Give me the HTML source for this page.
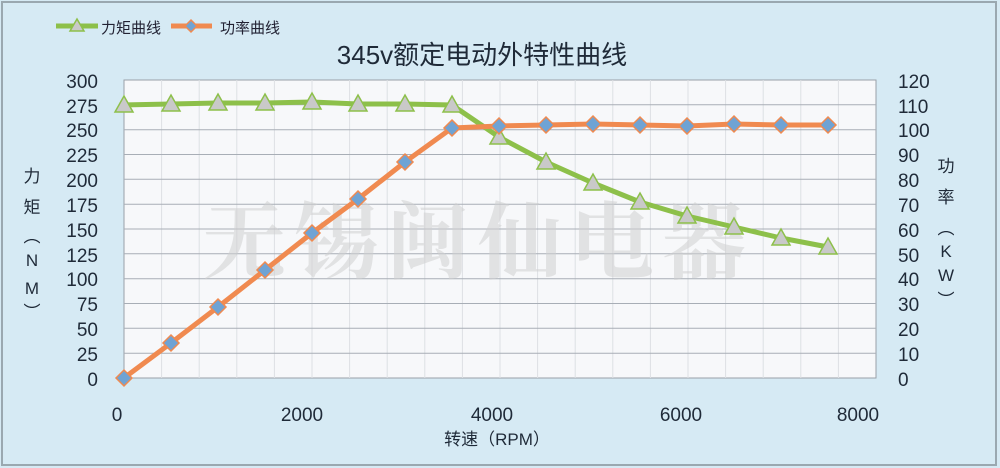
<!DOCTYPE html>
<html><head><meta charset="utf-8"><style>
body{margin:0;background:#d6eaf4;}
svg{display:block;font-family:"Liberation Sans","Noto Sans CJK SC",sans-serif;}
</style></head><body>
<svg width="1000" height="468" viewBox="0 0 1000 468" xmlns="http://www.w3.org/2000/svg">
<rect x="0" y="0" width="1000" height="468" fill="#d6eaf4"/>
<rect x="2" y="2" width="994" height="463" fill="none" stroke="#9aa8b0" stroke-width="2"/>
<!-- legend -->
<line x1="56" y1="26" x2="98" y2="26" stroke="#8dc04a" stroke-width="5"/>
<polygon points="77,19 84,31 70,31" fill="#c9c9c9" stroke="#8dc04a" stroke-width="1.5"/>
<text x="101" y="33" font-size="15" fill="#223">力矩曲线</text>
<line x1="171" y1="26" x2="212" y2="26" stroke="#f08a50" stroke-width="5"/>
<polygon points="191,20 197,26 191,32 185,26" fill="#6fa3d4" stroke="#f08a50" stroke-width="1.5"/>
<text x="220" y="33" font-size="15" fill="#223">功率曲线</text>
<!-- title -->
<text x="482" y="64" font-size="26" text-anchor="middle" fill="#1f2a38">345v额定电动外特性曲线</text>
<!-- plot area -->
<rect x="124" y="80" width="752" height="298" fill="#f7f8fa" stroke="#9aa0a8" stroke-width="1"/>
<g stroke="#dde0e4" stroke-width="1">
<line x1="161.6" y1="80" x2="161.6" y2="378"/><line x1="199.2" y1="80" x2="199.2" y2="378"/><line x1="236.8" y1="80" x2="236.8" y2="378"/><line x1="274.4" y1="80" x2="274.4" y2="378"/><line x1="312" y1="80" x2="312" y2="378"/><line x1="349.6" y1="80" x2="349.6" y2="378"/><line x1="387.2" y1="80" x2="387.2" y2="378"/><line x1="424.8" y1="80" x2="424.8" y2="378"/><line x1="462.4" y1="80" x2="462.4" y2="378"/><line x1="500" y1="80" x2="500" y2="378"/><line x1="537.6" y1="80" x2="537.6" y2="378"/><line x1="575.2" y1="80" x2="575.2" y2="378"/><line x1="612.8" y1="80" x2="612.8" y2="378"/><line x1="650.4" y1="80" x2="650.4" y2="378"/><line x1="688" y1="80" x2="688" y2="378"/><line x1="725.6" y1="80" x2="725.6" y2="378"/><line x1="763.2" y1="80" x2="763.2" y2="378"/><line x1="800.8" y1="80" x2="800.8" y2="378"/><line x1="838.4" y1="80" x2="838.4" y2="378"/>
</g>
<g stroke="#a8aeb6" stroke-width="1">
<line x1="124" y1="104.8" x2="876" y2="104.8"/><line x1="124" y1="129.7" x2="876" y2="129.7"/><line x1="124" y1="154.5" x2="876" y2="154.5"/><line x1="124" y1="179.3" x2="876" y2="179.3"/><line x1="124" y1="204.2" x2="876" y2="204.2"/><line x1="124" y1="229" x2="876" y2="229"/><line x1="124" y1="253.8" x2="876" y2="253.8"/><line x1="124" y1="278.7" x2="876" y2="278.7"/><line x1="124" y1="303.5" x2="876" y2="303.5"/><line x1="124" y1="328.3" x2="876" y2="328.3"/><line x1="124" y1="353.2" x2="876" y2="353.2"/>
</g>
<!-- watermark -->
<text x="478" y="272" font-size="84" text-anchor="middle" fill="#d0d0d0" fill-opacity="0.55" font-family="'Liberation Serif','Noto Serif CJK SC',serif" font-weight="bold" letter-spacing="8">无锡闽仙电器</text>
<!-- left axis -->
<g font-size="19" fill="#1f2a38" text-anchor="end">
<text x="98" y="88">300</text><text x="98" y="113">275</text><text x="98" y="137">250</text><text x="98" y="162">225</text><text x="98" y="187">200</text><text x="98" y="212">175</text><text x="98" y="237">150</text><text x="98" y="262">125</text><text x="98" y="286">100</text><text x="98" y="311">75</text><text x="98" y="336">50</text><text x="98" y="361">25</text><text x="98" y="386">0</text>
</g>
<g font-size="19" fill="#1f2a38" text-anchor="start">
<text x="898" y="88">120</text><text x="898" y="113">110</text><text x="898" y="137">100</text><text x="898" y="162">90</text><text x="898" y="187">80</text><text x="898" y="212">70</text><text x="898" y="237">60</text><text x="898" y="262">50</text><text x="898" y="286">40</text><text x="898" y="311">30</text><text x="898" y="336">20</text><text x="898" y="361">10</text><text x="898" y="386">0</text>
</g>
<g font-size="17" fill="#1f2a38" text-anchor="middle">
<text x="32" y="182">力</text><text x="32" y="213">矩</text><text x="32" y="242">︵</text><text x="32" y="266">N</text><text x="32" y="294">M</text><text x="32" y="318">︶</text>
<text x="946" y="172">功</text><text x="946" y="203">率</text><text x="946" y="234">︵</text><text x="946" y="257">K</text><text x="946" y="281">W</text><text x="946" y="306">︶</text>
</g>
<g font-size="19" fill="#1f2a38" text-anchor="middle">
<text x="117" y="421">0</text><text x="302" y="421">2000</text><text x="492" y="421">4000</text><text x="681" y="421">6000</text><text x="858" y="421">8000</text>
</g>
<text x="497" y="445" font-size="17" fill="#1f2a38" text-anchor="middle">转速（RPM）</text>
<!-- torque -->
<polyline fill="none" stroke="#8dc04a" stroke-width="5" stroke-linejoin="round" points="124,105 171,104 218,103 265,103 312,102 358,104 405,104 452,105 499,137 546,162 593,183 640,202 687,216 734,227 781,238 828,247"/>
<!-- power -->
<polyline fill="none" stroke="#f08a50" stroke-width="5" stroke-linejoin="round" points="124,378 171,343 218,307 265,270 312,233 358,199 405,162 452,128 499,126 546,125 593,124 640,125 687,126 734,124 781,125 828,125"/>
<g fill="#c9c9c9" stroke="#8dc04a" stroke-width="1.5">
<polygon points="124,96 133,112 115,112"/><polygon points="171,95 180,111 162,111"/><polygon points="218,94 227,110 209,110"/><polygon points="265,94 274,110 256,110"/><polygon points="312,93 321,109 303,109"/><polygon points="358,95 367,111 349,111"/><polygon points="405,95 414,111 396,111"/><polygon points="452,96 461,112 443,112"/><polygon points="499,128 508,144 490,144"/><polygon points="546,153 555,169 537,169"/><polygon points="593,174 602,190 584,190"/><polygon points="640,193 649,209 631,209"/><polygon points="687,207 696,223 678,223"/><polygon points="734,218 743,234 725,234"/><polygon points="781,229 790,245 772,245"/><polygon points="828,238 837,254 819,254"/>
</g>
<g fill="#6fa3d4" stroke="#f08a50" stroke-width="1.5">
<polygon points="124,370 132,378 124,386 116,378"/><polygon points="171,335 179,343 171,351 163,343"/><polygon points="218,299 226,307 218,315 210,307"/><polygon points="265,262 273,270 265,278 257,270"/><polygon points="312,225 320,233 312,241 304,233"/><polygon points="358,191 366,199 358,207 350,199"/><polygon points="405,154 413,162 405,170 397,162"/><polygon points="452,120 460,128 452,136 444,128"/><polygon points="499,118 507,126 499,134 491,126"/><polygon points="546,117 554,125 546,133 538,125"/><polygon points="593,116 601,124 593,132 585,124"/><polygon points="640,117 648,125 640,133 632,125"/><polygon points="687,118 695,126 687,134 679,126"/><polygon points="734,116 742,124 734,132 726,124"/><polygon points="781,117 789,125 781,133 773,125"/><polygon points="828,117 836,125 828,133 820,125"/>
</g>
</svg>
</body></html>
